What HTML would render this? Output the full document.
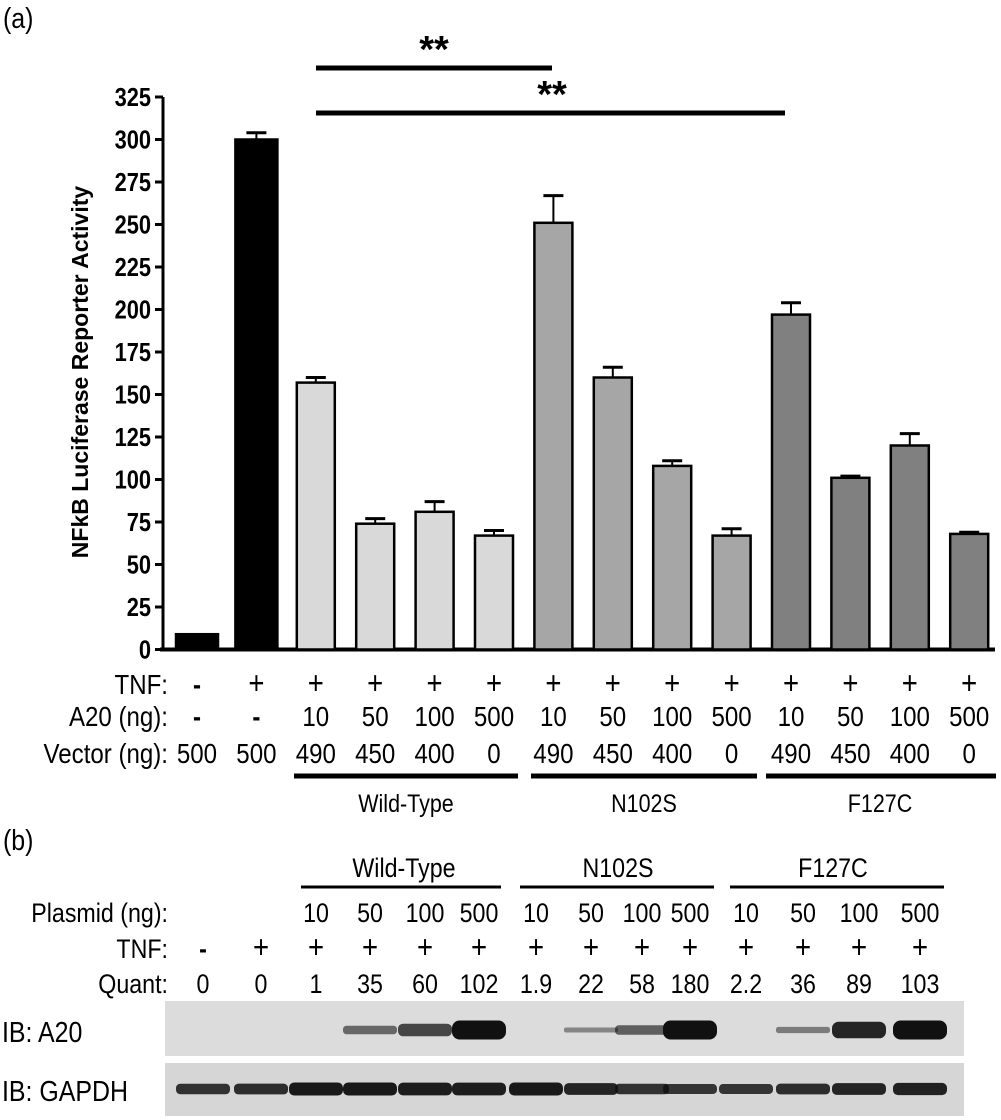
<!DOCTYPE html>
<html><head><meta charset="utf-8"><style>
body{margin:0;background:#fff}
svg{display:block;font-family:"Liberation Sans",sans-serif}
</style></head><body>
<svg id="fig" width="1001" height="1120" viewBox="0 0 1001 1120">
<g id="chart"></g>
<g id="blot"></g>
</svg>
<script>
const values=[9,300,157,74,81,67,251,160,108,67,197,101,120,68];
const errors=[0,4,3,3,6,3,16,6,3,4,7,1,7,1];
const colors=["#000","#000","#d9d9d9","#d9d9d9","#d9d9d9","#d9d9d9","#a6a6a6","#a6a6a6","#a6a6a6","#a6a6a6","#808080","#808080","#808080","#808080"];
const ticks=[0,25,50,75,100,125,150,175,200,225,250,275,300,325];
const tnfRow=["-","+","+","+","+","+","+","+","+","+","+","+","+","+"];
const a20Row=["-","-","10","50","100","500","10","50","100","500","10","50","100","500"];
const vecRow=["500","500","490","450","400","0","490","450","400","0","490","450","400","0"];
const groups=["Wild-Type","N102S","F127C"];
const plasmidRow=["","","10","50","100","500","10","50","100","500","10","50","100","500"];
const tnfB=["-","+","+","+","+","+","+","+","+","+","+","+","+","+"];
const quant=["0","0","1","35","60","102","1.9","22","58","180","2.2","36","89","103"];
const a20Band=[0,0,0,0.35,0.6,1,0,0.12,0.4,1,0,0.2,0.85,1];
const gapdhBand=[0.6,0.65,0.9,0.9,0.85,0.85,0.9,0.75,0.6,0.55,0.55,0.65,0.75,0.8];

const NS="http://www.w3.org/2000/svg";
function mk(p,tag,attrs,txt){const e=document.createElementNS(NS,tag);for(const k in attrs)e.setAttribute(k,attrs[k]);if(txt!==undefined)e.textContent=txt;p.appendChild(e);return e;}
function tx(p,x0,y0,size,anchor,str,bold,sx){
  sx=sx||0.86;
  return mk(p,'text',{x:x0/sx,y:y0,'font-size':size,'text-anchor':anchor,'font-weight':bold?'bold':'normal',transform:'scale('+sx+',1)'},str);
}
const root=document.getElementById('fig');
let pa=tx(root,3,28,29,'start','(a)');


let pb=tx(root,3,850,29,'start','(b)');



const y=v=>649.5-v*(552.5/325);
const x=i=>197+(i)*59.4;
const ch=document.getElementById('chart');
let ax=mk(ch,'line',{x1:163,y1:y(0),x2:163,y2:y(325),stroke:'#000','stroke-width':3});


let bl=mk(ch,'line',{x1:160,y1:y(0),x2:995,y2:y(0),stroke:'#000','stroke-width':4});


ticks.forEach(t=>{
  mk(ch,'line',{x1:155,y1:y(t),x2:163,y2:y(t),stroke:'#000','stroke-width':3});
  let tl=tx(ch,151,y(t)+9,26,'end',t,true,0.84);
  
  
});
let yt=mk(ch,'text',{x:0,y:0,'font-size':23,'font-weight':'bold','text-anchor':'middle',transform:'translate(88,372) rotate(-90)'},'NFkB Luciferase Reporter Activity');


values.forEach((v,i)=>{
  const w=i<2?42:38;
  const cx=x(i);
  if(errors[i]>0){
    mk(ch,'line',{x1:cx,y1:y(v),x2:cx,y2:y(v+errors[i]),stroke:'#000','stroke-width':2});
    mk(ch,'line',{x1:cx-10,y1:y(v+errors[i]),x2:cx+10,y2:y(v+errors[i]),stroke:'#000','stroke-width':3});
  }
  let r=mk(ch,'rect',{x:cx-w/2,y:y(v),width:w,height:y(0)-y(v),fill:colors[i],stroke:'#000','stroke-width':2.5});
  
  
});
[[552,68,434,'sig-bar-wt'],[785,113,552,'sig-bar-n102s']].forEach(s=>{
  let l=mk(ch,'line',{x1:316,y1:s[1],x2:s[0],y2:s[1],stroke:'#000','stroke-width':5});
  
  
  let st=mk(ch,'text',{x:s[2],y:s[1]-6,'font-size':38,'font-weight':'bold','text-anchor':'middle'},'**');
  
  
});
[["TNF:",tnfRow,694],["A20 (ng):",a20Row,726],["Vector (ng):",vecRow,763]].forEach(r=>{
  let lb=tx(ch,168,r[2],28,'end',r[0]);
  
  
  r[1].forEach((t,i)=>{
    let e=tx(ch,x(i),r[2],t==='+'?32:28,'middle',t,t==='-');
    
    
  });
});
[[294,518,406],[531,757,644],[766,996,880]].forEach((g,k)=>{
  mk(ch,'line',{x1:g[0],y1:776,x2:g[1],y2:776,stroke:'#000','stroke-width':5});
  let gl=tx(ch,g[2],812,25,'middle',groups[k]);
  
  
});
const bt=document.getElementById('blot');
const lx=[203,261,316,370,425,479,536,591,642,690,746,803,859,920];
[[301,501,404],[520,714,618],[730,944,833]].forEach((g,k)=>{
  mk(bt,'line',{x1:g[0],y1:887,x2:g[1],y2:887,stroke:'#000','stroke-width':3});
  let gl=tx(bt,g[2],877,27,'middle',groups[k]);
  
  
});
[["Plasmid (ng):",plasmidRow,922],["TNF:",tnfB,958],["Quant:",quant,993]].forEach(r=>{
  let lb=tx(bt,168,r[2],27,'end',r[0]);
  
  
  r[1].forEach((t,i)=>{
    let e=tx(bt,lx[i],r[2],t==='+'?32:27,'middle',t,t==='-');
    
    
  });
});
let p1=mk(bt,'rect',{x:165,y:1001,width:799,height:55,fill:'#dcdcdc'});


let p2=mk(bt,'rect',{x:165,y:1063,width:799,height:53,fill:'#d6d6d6'});


let l1=tx(bt,2,1042,29,'start','IB: A20');


let l2=tx(bt,2,1101,29,'start','IB: GAPDH');


a20Band.forEach((s,i)=>{
  if(s<=0)return;
  const h=3+s*16;
  let e=mk(bt,'rect',{x:lx[i]-27,y:1030-h/2,width:54,height:h,rx:h/2.5,fill:'#111','fill-opacity':0.35+0.65*s});
  
  
});
gapdhBand.forEach((s,i)=>{
  const h=5+s*9;
  let e=mk(bt,'rect',{x:lx[i]-27,y:1089-h/2,width:54,height:h,rx:h/2.5,fill:'#111','fill-opacity':0.6+0.4*s});
  
  
});
</script>
</body></html>
